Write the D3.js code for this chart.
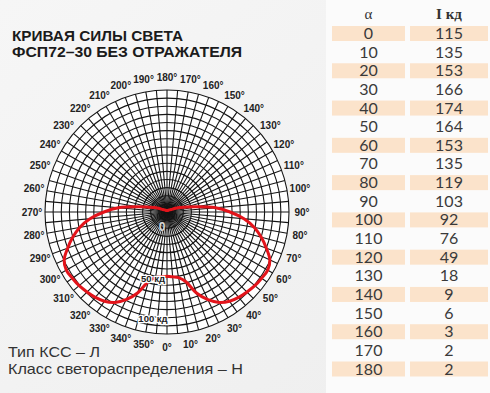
<!DOCTYPE html>
<html><head><meta charset="utf-8">
<script src="https://cdn.jsdelivr.net/npm/d3@7"></script>
<style>
html,body{margin:0;padding:0;background:#f3f3f3;}
svg{display:block;}
</style></head>
<body>
<svg id="chart" width="490" height="393"></svg>
<script>
// ---- data ----
const titleLines = ["КРИВАЯ СИЛЫ СВЕТА", "ФСП72–30 БЕЗ ОТРАЖАТЕЛЯ"];
const footLines = ["Тип КСС – Л", "Класс светораспределения – Н"];
const tableHeader = ["α", "I кд"];
const alphaValues = [0,10,20,30,40,50,60,70,80,90,100,110,120,130,140,150,160,170,180];
const intensityValues = [115,135,153,166,174,164,153,135,119,103,92,76,49,18,9,6,3,2,2];
const angleTicks = d3.range(0, 360, 10);
const ringLabels = ["50 кд", "100 кд"];
// curve (half, mirrored for 180..360)
const curveAngles = [0,5,10,15,20,25,30,35,40,45,50,55,60,65,70,75,80,85,90,95,100,105,110,115,120,130,140,150,160,170,180];
const curveValues = [79,80,82,88.5,106,119,128.5,134,137,139,141,142,143,139.5,130,120,109,95,77.5,60,37,23,16,10,6,4,3,2,2,2,2];

// ---- layout ----
const svg = d3.select("#chart");
const cx = 167, cy = 212, R = 122;
const rMax = 150;
const r = d3.scaleLinear().domain([0, rMax]).range([0, R]);
const toA = deg => Math.PI - deg * Math.PI / 180; // 0° bottom, 90° right

// background light gradient
const defs = svg.append("defs");
const lg = defs.append("linearGradient").attr("id","bg").attr("x1","0").attr("y1","0").attr("x2","1").attr("y2","1");
lg.append("stop").attr("offset","0").attr("stop-color","#f6f6f6");
lg.append("stop").attr("offset","1").attr("stop-color","#eeeeee");
svg.append("rect").attr("width",490).attr("height",393).attr("fill","url(#bg)");

// title
titleLines.forEach((t,i)=>{
  svg.append("text").attr("x",12).attr("y",[40.5,57][i])
    .attr("font-family","'Liberation Sans', Arial, sans-serif").attr("font-weight","bold")
    .attr("font-size",14.5).attr("fill","#1b1b1b")
    .attr("textLength",[171,230][i]).attr("lengthAdjust","spacingAndGlyphs")
    .text(t);
});

// polar grid
const g = svg.append("g").attr("transform",`translate(${cx},${cy})`);
g.append("circle").attr("r",R).attr("fill","#ffffff");
const ringVals = d3.range(10, rMax + 1, 10);
g.selectAll("circle.ring").data(ringVals).join("circle").attr("class","ring")
  .attr("r", d=>r(d)).attr("fill","none").attr("stroke","#151515").attr("stroke-width",1.1);
const spokes = d3.range(0, 360, 5);
g.selectAll("line.spoke").data(spokes).join("line").attr("class","spoke")
  .attr("x1",0).attr("y1",0)
  .attr("x2", d=>R*Math.sin(toA(d))).attr("y2", d=>-R*Math.cos(toA(d)))
  .attr("stroke","#151515").attr("stroke-width",1.1);

// angle labels
const labR = 135;
g.selectAll("text.ang").data(angleTicks).join("text").attr("class","ang")
  .attr("x", d=>labR*Math.sin(toA(d))).attr("y", d=>-labR*Math.cos(toA(d)))
  .attr("text-anchor","middle").attr("dominant-baseline","central")
  .attr("font-family","'Liberation Sans', Arial, sans-serif").attr("font-weight","bold")
  .attr("font-size",10).attr("fill","#222")
  .text(d=>d+"°");

// curve
const pts = curveAngles.map((a,i)=>[a, curveValues[i]]);
const mirror = curveAngles.slice(1,-1).reverse().map(a=>[360-a, curveValues[curveAngles.indexOf(a)]]);
const full = pts.concat(mirror);
const line = d3.lineRadial().angle(d=>toA(d[0])).radius(d=>r(d[1])).curve(d3.curveCatmullRomClosed);
g.append("path").attr("d", line(full)).attr("fill","none").attr("stroke","#e3141b").attr("stroke-width",3);

// ring annotations
g.append("text").attr("x",-5).attr("y",15).attr("text-anchor","middle").attr("dominant-baseline","central")
  .attr("font-family","'Liberation Sans', Arial, sans-serif").attr("font-weight","bold").attr("font-size",12)
  .attr("fill","#d8d8d8").text("0");
const ringLabR = [66, 106];
ringLabels.forEach((t,i)=>{
  g.append("text").attr("x",-14).attr("y",ringLabR[i]).attr("text-anchor","middle").attr("dominant-baseline","central")
    .attr("font-family","'Liberation Sans', Arial, sans-serif").attr("font-weight","bold").attr("font-size",9.5)
    .attr("fill","#222").attr("stroke","#ffffff").attr("stroke-width",2.5).attr("paint-order","stroke")
    .text(t);
});

// footer
footLines.forEach((t,i)=>{
  svg.append("text").attr("x",8).attr("y",[357,374][i])
    .attr("font-family","'Liberation Sans', Arial, sans-serif").attr("font-size",15).attr("fill","#333")
    .attr("textLength",[92,235][i]).attr("lengthAdjust","spacingAndGlyphs")
    .text(t);
});

// table
const tg = svg.append("g");
const colX = [332, 410], colW = [73, 78];
const rowY = d3.scaleLinear().domain([0, alphaValues.length-1]).range([33.5, 369]);
tg.append("rect").attr("x",326).attr("y",0).attr("width",164).attr("height",393).attr("fill","#fbfbfb");
alphaValues.forEach((a,i)=>{
  if (i % 2 === 0) {
    colX.forEach((x,j)=>{
      tg.append("rect").attr("x",x).attr("y",rowY(i)-7.5).attr("width",colW[j]).attr("height",15).attr("fill","#fbe3cb");
    });
  }
  [a, intensityValues[i]].forEach((v,j)=>{
    tg.append("text").attr("x",colX[j]+colW[j]/2).attr("y",rowY(i)+5.5).attr("text-anchor","middle")
      .attr("font-family","Lato, 'Open Sans', sans-serif").attr("font-size",16).attr("fill","#3a3a3a")
      .text(v);
  });
});
tableHeader.forEach((t,j)=>{
  tg.append("text").attr("x",colX[j]+colW[j]/2).attr("y",19).attr("text-anchor","middle")
    .attr("font-family","'Liberation Serif', 'DejaVu Serif', serif").attr("font-size",15)
    .attr("font-weight", j===1 ? "bold" : "normal").attr("fill","#333").text(t);
});
</script>
</body></html>
